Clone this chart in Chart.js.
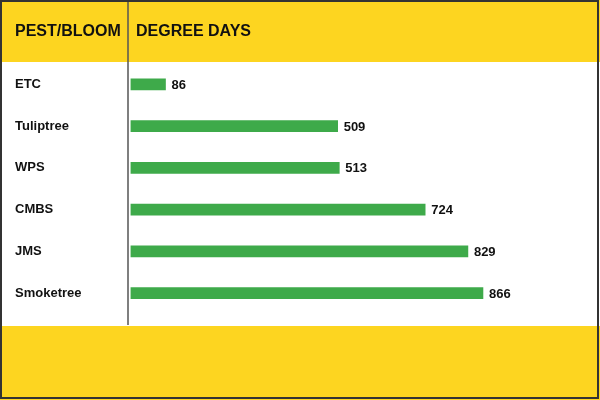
<!DOCTYPE html>
<html>
<head>
<meta charset="utf-8">
<script src="https://cdn.jsdelivr.net/npm/chart.js@4/dist/chart.umd.min.js"></script>
<style>
  html, body { margin: 0; padding: 0; background: #fff; }
  #wrap { width: 600px; height: 400px; position: relative; }
</style>
</head>
<body>
<div id="wrap"><canvas id="c" width="600" height="400"></canvas></div>
<script>
const categories = ["ETC", "Tuliptree", "WPS", "CMBS", "JMS", "Smoketree"];
const degreeDays = [86, 509, 513, 724, 829, 866];
const headerLabels = ["PEST/BLOOM", "DEGREE DAYS"];

const YELLOW = "#FDD520";
const GREEN = "#3EAA4A";
const TEXT = "#111111";

const framePlugin = {
  id: "frame",
  beforeDraw(chart) {
    const ctx = chart.ctx;
    ctx.save();
    ctx.fillStyle = "#ffffff";
    ctx.fillRect(0, 0, 600, 400);
    ctx.fillStyle = YELLOW;
    ctx.fillRect(0, 0, 600, 62);
    ctx.fillRect(0, 326, 600, 74);
    ctx.restore();
  },
  afterDatasetsDraw(chart) {
    const ctx = chart.ctx;
    const meta = chart.getDatasetMeta(0);
    ctx.save();
    ctx.font = "bold 13px 'Liberation Sans', Arial, sans-serif";
    ctx.fillStyle = TEXT;
    ctx.textAlign = "left";
    ctx.textBaseline = "middle";
    meta.data.forEach((bar, i) => {
      ctx.fillText(String(chart.data.datasets[0].data[i]), bar.x + 6, bar.y + 1);
    });
    ctx.restore();
  },
  afterDraw(chart) {
    const ctx = chart.ctx;
    ctx.save();
    // header text
    ctx.font = "bold 16px 'Liberation Sans', Arial, sans-serif";
    ctx.fillStyle = TEXT;
    ctx.textAlign = "left";
    ctx.textBaseline = "middle";
    ctx.fillText(headerLabels[0], 15, 32);
    ctx.fillText(headerLabels[1], 136, 32);
    // divider
    ctx.strokeStyle = "#555555";
    ctx.lineWidth = 1.5;
    ctx.beginPath();
    ctx.moveTo(128, 0);
    ctx.lineTo(128, 325);
    ctx.stroke();
    // outer border
    ctx.strokeStyle = "#333333";
    ctx.lineWidth = 2;
    ctx.strokeRect(1, 1, 597, 397);
    ctx.restore();
  }
};

new Chart(document.getElementById("c"), {
  type: "bar",
  data: {
    labels: categories,
    datasets: [{
      data: degreeDays,
      backgroundColor: GREEN,
      borderWidth: 0,
      barThickness: 11
    }]
  },
  options: {
    indexAxis: "y",
    responsive: false,
    animation: false,
    devicePixelRatio: 1,
    layout: { padding: { top: 63.5, bottom: 86, left: 15, right: 62.5 } },
    plugins: { legend: { display: false }, tooltip: { enabled: false }, title: { display: false } },
    scales: {
      x: {
        display: false,
        min: 0,
        max: 1000,
        grid: { display: false }
      },
      y: {
        grid: { display: false },
        border: { display: false },
        ticks: {
          crossAlign: "far",
          color: TEXT,
          padding: 0,
          font: { family: "'Liberation Sans', Arial, sans-serif", size: 13, weight: "bold" }
        },
        afterFit(scale) { scale.width = 115.5; }
      }
    }
  },
  plugins: [framePlugin]
});
</script>
</body>
</html>
